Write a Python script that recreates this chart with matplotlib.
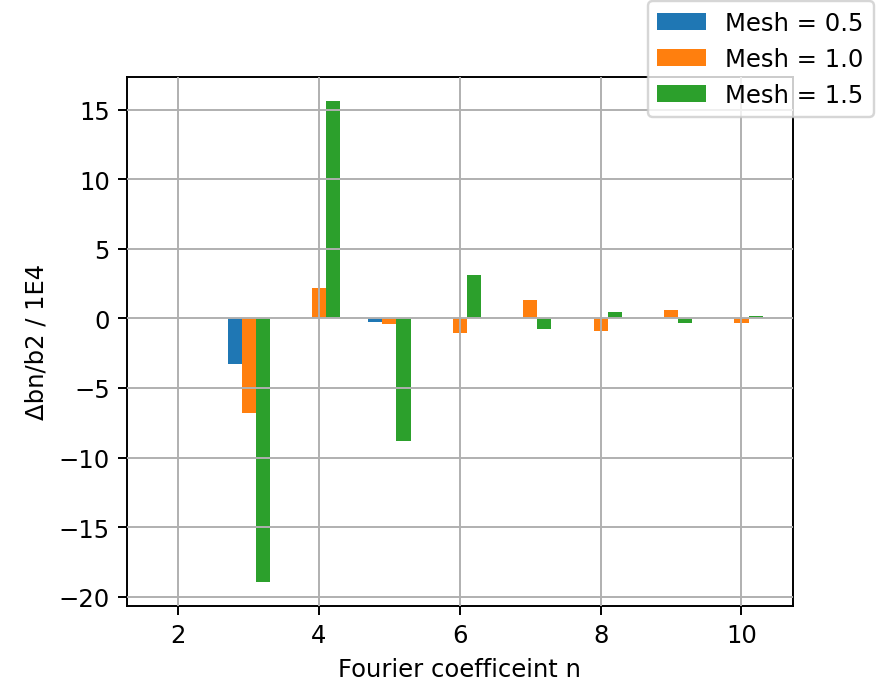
import numpy as np
import matplotlib
matplotlib.use('Agg')
from matplotlib import pyplot as plt

# Fourier coefficients and relative deviations (units of 1E-4)
n = np.array([2, 3, 4, 5, 6, 7, 8, 9, 10])
mesh_05 = [0.0, -3.26, 0.0, -0.29, 0.0, 0.0, 0.0, 0.0, 0.0]
mesh_10 = [0.0, -6.83, 2.16, -0.41, -1.03, 1.29, -0.91, 0.58, -0.31]
mesh_15 = [0.0, -18.94, 15.63, -8.83, 3.15, -0.79, 0.43, -0.31, 0.19]

width = 0.2
fig = plt.figure(figsize=(5.068, 3.897), dpi=175)
ax = fig.add_axes([0.143, 0.110, 0.751, 0.776])
ax.bar(n - width, mesh_05, width, label='Mesh = 0.5')
ax.bar(n, mesh_10, width, label='Mesh = 1.0')
ax.bar(n + width, mesh_15, width, label='Mesh = 1.5')
ax.grid(True)
ax.set_axisbelow(False)
ax.set_xlabel('Fourier coefficeint n')
ax.set_ylabel('\u0394bn/b2 / 1E4')
fig.legend(loc='upper right', bbox_to_anchor=(0.985, 0.997), borderaxespad=0)
plt.savefig('out.png')
